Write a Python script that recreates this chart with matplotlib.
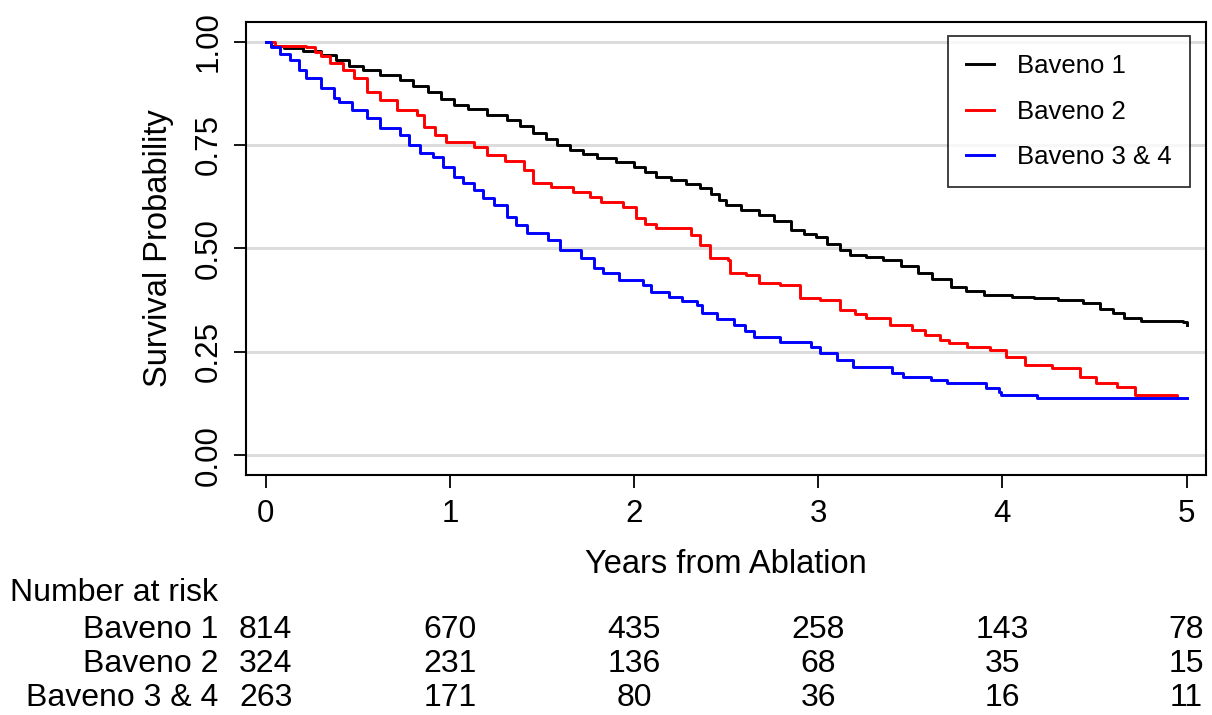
import matplotlib
matplotlib.use('Agg')
import matplotlib.pyplot as plt
import matplotlib.transforms as mtransforms

plt.rcParams['font.family'] = ['Liberation Sans', 'DejaVu Sans']

# Kaplan-Meier step estimates (time in years, survival)
b1_time = [0, 0.03, 0.10, 0.20, 0.30, 0.38, 0.45, 0.53, 0.62, 0.73, 0.80, 0.88,
           0.95, 1.02, 1.10, 1.20, 1.31, 1.38, 1.45, 1.52, 1.58, 1.65, 1.72,
           1.80, 1.90, 2.00, 2.06, 2.12, 2.20, 2.28, 2.36, 2.42, 2.46, 2.50,
           2.58, 2.68, 2.76, 2.85, 2.92, 2.99, 3.05, 3.12, 3.17, 3.26, 3.35,
           3.45, 3.54, 3.62, 3.72, 3.80, 3.90, 4.05, 4.17, 4.30, 4.44, 4.53,
           4.60, 4.66, 4.75, 4.98, 5.0]
b1_surv = [1.0, 0.99, 0.985, 0.978, 0.968, 0.955, 0.942, 0.93, 0.92, 0.907,
           0.893, 0.878, 0.862, 0.847, 0.836, 0.823, 0.81, 0.795, 0.78, 0.765,
           0.75, 0.737, 0.727, 0.718, 0.708, 0.697, 0.685, 0.673, 0.665, 0.655,
           0.646, 0.632, 0.618, 0.605, 0.593, 0.58, 0.565, 0.544, 0.535, 0.527,
           0.51, 0.495, 0.484, 0.478, 0.472, 0.457, 0.44, 0.425, 0.407, 0.397,
           0.387, 0.383, 0.38, 0.374, 0.368, 0.353, 0.343, 0.331, 0.324, 0.322,
           0.315]

b2_time = [0, 0.05, 0.22, 0.27, 0.30, 0.35, 0.42, 0.48, 0.55, 0.62, 0.71, 0.82,
           0.86, 0.92, 0.98, 1.13, 1.20, 1.30, 1.40, 1.45, 1.55, 1.67, 1.76,
           1.82, 1.94, 2.01, 2.06, 2.12, 2.31, 2.36, 2.41, 2.51, 2.52, 2.61,
           2.68, 2.79, 2.90, 3.01, 3.12, 3.20, 3.26, 3.39, 3.51, 3.58, 3.66,
           3.71, 3.81, 3.93, 4.02, 4.12, 4.27, 4.42, 4.51, 4.62, 4.72, 4.95]
b2_surv = [1.0, 0.99, 0.987, 0.975, 0.965, 0.948, 0.93, 0.912, 0.878, 0.859,
           0.835, 0.823, 0.794, 0.775, 0.757, 0.745, 0.726, 0.71, 0.69, 0.658,
           0.648, 0.636, 0.625, 0.612, 0.60, 0.573, 0.56, 0.549, 0.532, 0.508,
           0.476, 0.472, 0.44, 0.435, 0.416, 0.411, 0.38, 0.375, 0.351, 0.34,
           0.331, 0.315, 0.302, 0.29, 0.278, 0.271, 0.261, 0.254, 0.237, 0.218,
           0.21, 0.189, 0.174, 0.165, 0.145, 0.138]

b3_time = [0, 0.03, 0.08, 0.13, 0.18, 0.22, 0.30, 0.37, 0.40, 0.47, 0.55, 0.62,
           0.73, 0.78, 0.84, 0.91, 0.96, 1.02, 1.07, 1.13, 1.18, 1.24, 1.31,
           1.36, 1.42, 1.53, 1.60, 1.71, 1.78, 1.83, 1.92, 2.05, 2.09, 2.19,
           2.26, 2.34, 2.37, 2.45, 2.54, 2.60, 2.65, 2.79, 2.96, 3.01, 3.10,
           3.19, 3.40, 3.46, 3.61, 3.70, 3.91, 3.98, 3.99, 4.19, 5.0]
b3_surv = [1.0, 0.987, 0.97, 0.956, 0.93, 0.912, 0.888, 0.864, 0.854, 0.835,
           0.815, 0.791, 0.774, 0.75, 0.73, 0.721, 0.697, 0.673, 0.657, 0.641,
           0.622, 0.605, 0.576, 0.556, 0.537, 0.52, 0.496, 0.477, 0.452, 0.44,
           0.423, 0.411, 0.394, 0.382, 0.372, 0.363, 0.343, 0.33, 0.315, 0.30,
           0.286, 0.273, 0.261, 0.247, 0.23, 0.213, 0.198, 0.189, 0.181, 0.174,
           0.162, 0.152, 0.145, 0.138, 0.138]

groups = ['Baveno 1', 'Baveno 2', 'Baveno 3 & 4']
colors = ['black', 'red', 'blue']

# numbers at risk at each whole year
risk_times = [0, 1, 2, 3, 4, 5]
risk_b1 = [814, 670, 435, 258, 143, 78]
risk_b2 = [324, 231, 136, 68, 35, 15]
risk_b3 = [263, 171, 80, 36, 16, 11]

fig = plt.figure(figsize=(12.12, 7.15), dpi=100)
ax = fig.add_axes([0.2027, 0.3357, 0.7923, 0.634])

for y in [0, 0.25, 0.5, 0.75, 1.0]:
    ax.axhline(y, color='#dcdcdc', lw=2.2, zorder=0)

curves = [(b1_time, b1_surv), (b2_time, b2_surv), (b3_time, b3_surv)]
for (t, s), name, c in zip(curves, groups, colors):
    ax.plot(t, s, drawstyle='steps-post', color=c, lw=2.1, label=name)

ax.set_xlim(-0.109, 5.105)
ax.set_ylim(-0.048, 1.048)
ax.set_xticks(risk_times)
ax.set_yticks([0, 0.25, 0.5, 0.75, 1.0])
ax.set_yticklabels(['0.00', '0.25', '0.50', '0.75', '1.00'], rotation=90, va='center')
ax.tick_params(axis='both', direction='out', length=9, width=1.3, labelsize=22.5)
ax.tick_params(axis='x', pad=8)
ax.tick_params(axis='y', pad=7)
for sp in ax.spines.values():
    sp.set_linewidth(1.5)

ax.set_xlabel('Years from Ablation', fontsize=23.5, labelpad=15)
ax.set_ylabel('Survival Probability', fontsize=23.5, labelpad=14)

leg = ax.legend(loc='upper right', bbox_to_anchor=(0.9833, 0.969), borderaxespad=0,
                fontsize=18.5, frameon=True, fancybox=False, handlelength=1.1,
                handletextpad=0.9, labelspacing=0.85, borderpad=0.7)
leg.get_frame().set_edgecolor('black')
leg.get_frame().set_linewidth(1.3)

# number-at-risk table below the axes
trans = mtransforms.blended_transform_factory(ax.transData, fig.transFigure)
fig.text(0.008, 1 - 593 / 715, 'Number at risk', fontsize=23, va='center', ha='left')
row_y = [1 - 630 / 715, 1 - 664 / 715, 1 - 698 / 715]
for name, counts, ry in zip(groups, [risk_b1, risk_b2, risk_b3], row_y):
    fig.text(0.18, ry, name, fontsize=23, va='center', ha='right')
    for t, n in zip(risk_times, counts):
        ax.text(t, ry, str(n), transform=trans, fontsize=23, va='center', ha='center')

fig.savefig('out.png', dpi=100)
